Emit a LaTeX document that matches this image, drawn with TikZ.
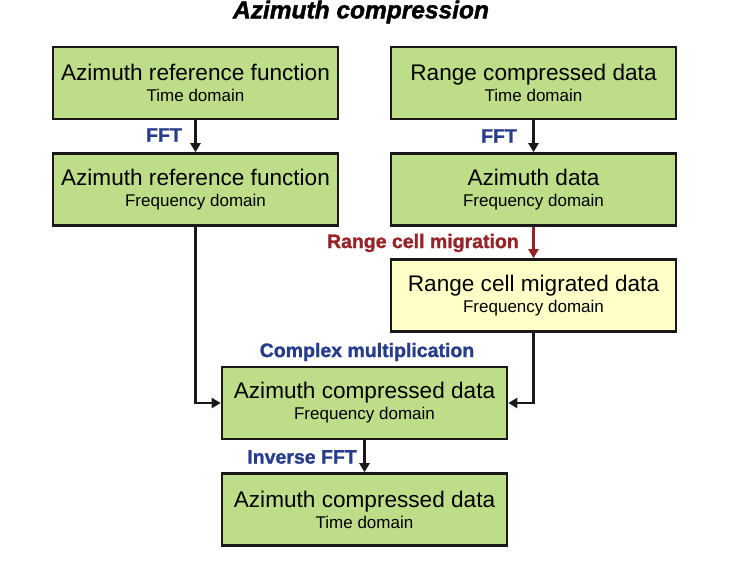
\documentclass[tikz,border=0pt]{standalone}
\usepackage{fontspec}
\setmainfont{Liberation Sans}
\newfontface\heavylbl{Liberation Sans Bold}[FakeBold=1.3]
\newfontface\heavytitle{Liberation Sans Bold Italic}[FakeBold=1.6]
\usetikzlibrary{arrows.meta}
\definecolor{boxgreen}{RGB}{190,221,136}
\definecolor{boxyellow}{RGB}{255,255,200}
\definecolor{lblblue}{RGB}{40,60,140}
\definecolor{lblred}{RGB}{150,35,40}
\definecolor{edge}{RGB}{25,25,25}
\tikzset{
  procbox/.style={draw=edge, line width=2.6pt, fill=boxgreen, minimum width=285pt, minimum height=72pt,
    inner sep=0pt, align=center, font=\fontsize{17}{21}\selectfont},
  yellowbox/.style={procbox, fill=boxyellow},
  flow/.style={draw=edge, line width=2.4pt, -{Triangle[length=9pt,width=10pt]}},
  redflow/.style={draw=lblred, line width=2.4pt, -{Triangle[length=9pt,width=10pt]}},
  bluelbl/.style={text=lblblue, font=\fontsize{19.5}{22}\heavylbl, inner sep=0pt},
  redlbl/.style={text=lblred, font=\fontsize{19.5}{22}\heavylbl, inner sep=0pt},
}
\newcommand{\bigline}[1]{{\fontsize{22.6}{21}\selectfont #1}}
\begin{document}
\begin{tikzpicture}[x=1pt,y=-1pt]
\useasboundingbox (0,0) rectangle (735,565);
\node[font=\fontsize{24.5}{28}\heavytitle, inner sep=0pt] (title) at (361,12) {Azimuth compression};

\node[procbox] (arft) at (195.5,83) {\bigline{Azimuth reference function}\\Time domain};
\node[procbox] (arff) at (195.5,189.5) {\bigline{Azimuth reference function}\\Frequency domain};
\node[procbox] (rcd) at (533.5,83) {\bigline{Range compressed data}\\Time domain};
\node[procbox] (azd) at (533.5,189.5) {\bigline{Azimuth data}\\Frequency domain};
\node[yellowbox] (rcm) at (533.5,295.5) {\bigline{Range cell migrated data}\\Frequency domain};
\node[procbox] (acf) at (364.5,403) {\bigline{Azimuth compressed data}\\Frequency domain};
\node[procbox] (act) at (364.5,509.5) {\bigline{Azimuth compressed data}\\Time domain};

\draw[flow] (arft) -- (arff);
\draw[flow] (rcd) -- (azd);
\draw[redflow] (azd) -- (rcm);
\draw[flow] (arff.south) |- (acf.west);
\draw[flow] (rcm.south) |- (acf.east);
\draw[flow] (acf) -- (act);

\node[bluelbl] (fft1) at (164,135) {FFT};
\node[bluelbl] (fft2) at (499,136) {FFT};
\node[redlbl, anchor=east] (rcmlbl) at (519,243) {Range cell migration};
\node[bluelbl] (cmlbl) at (367,352) {Complex multiplication};
\node[bluelbl, anchor=east] (ifft) at (357,457) {Inverse FFT};
\end{tikzpicture}
\end{document}
